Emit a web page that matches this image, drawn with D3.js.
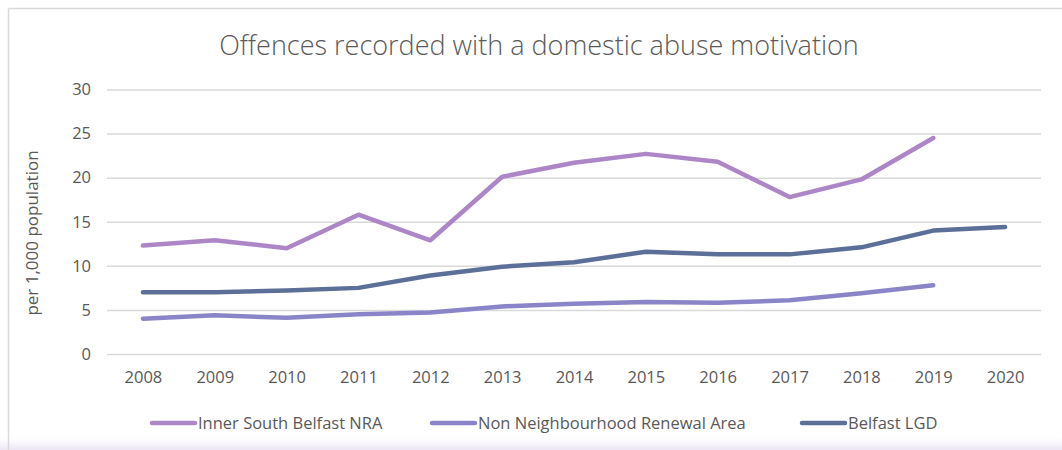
<!DOCTYPE html>
<html>
<head>
<meta charset="utf-8">
<script src="https://cdn.jsdelivr.net/npm/d3@7"></script>
<style>
  html, body { margin: 0; padding: 0; background: #fff; }
  svg { display: block; }
</style>
</head>
<body>
<svg id="chart" width="1062" height="450"></svg>
<script>
// Offences recorded with a domestic abuse motivation, per 1,000 population
const years = ["2008","2009","2010","2011","2012","2013","2014","2015","2016","2017","2018","2019","2020"];
const innerSouthNRA = [12.3, 12.9, 12.0, 15.8, 12.9, 20.1, 21.7, 22.7, 21.8, 17.8, 19.8, 24.5, null];
const nonNRA        = [4.0, 4.4, 4.1, 4.5, 4.7, 5.4, 5.7, 5.9, 5.8, 6.1, 6.9, 7.8, null];
const belfastLGD    = [7.0, 7.0, 7.2, 7.5, 8.9, 9.9, 10.4, 11.6, 11.3, 11.3, 12.1, 14.0, 14.4];
const yTicks = [0, 5, 10, 15, 20, 25, 30];
const seriesNames = ["Inner South Belfast NRA", "Non Neighbourhood Renewal Area", "Belfast LGD"];
const seriesColors = ["#ad86c8", "#8a85c9", "#5b6f98"];

const series = [innerSouthNRA, nonNRA, belfastLGD].map((vals, i) => ({
  name: seriesNames[i], color: seriesColors[i],
  points: vals.map((v, j) => ({ year: years[j], value: v }))
}));

const svg = d3.select("#chart");
const W = 1062, H = 450;
const font = "'Open Sans', 'Noto Sans', sans-serif";

// background frame with soft lavender fade at the bottom
const defs = svg.append("defs");
const grad = defs.append("linearGradient").attr("id", "fade").attr("x1", 0).attr("y1", 0).attr("x2", 0).attr("y2", 1);
grad.append("stop").attr("offset", 0).attr("stop-color", "#ffffff").attr("stop-opacity", 0);
grad.append("stop").attr("offset", 1).attr("stop-color", "#ebe4f3").attr("stop-opacity", 1);

svg.append("rect").attr("x", 0).attr("y", 0).attr("width", W).attr("height", H).attr("fill", "#fff");
svg.append("rect").attr("x", 0).attr("y", 434).attr("width", W).attr("height", 16).attr("fill", "url(#fade)");
svg.append("line").attr("x1", 8.5).attr("x2", W).attr("y1", 8.5).attr("y2", 8.5)
  .attr("stroke", "#d9d9d9").attr("stroke-width", 1.5);
svg.append("line").attr("x1", 8.5).attr("x2", 8.5).attr("y1", 8.5).attr("y2", H)
  .attr("stroke", "#d9d9d9").attr("stroke-width", 1.5);

const plot = { left: 107, right: 1041, top: 89.5, bottom: 354 };

const x = d3.scalePoint().domain(years).range([plot.left, plot.right]).padding(0.5);
const y = d3.scaleLinear().domain([0, 30]).range([plot.bottom, plot.top]);

// title
svg.append("text")
  .attr("x", 539).attr("y", 55)
  .attr("text-anchor", "middle")
  .attr("font-family", font).attr("font-weight", 300)
  .attr("font-size", 27).attr("fill", "#595959")
  .text("Offences recorded with a domestic abuse motivation");

// horizontal gridlines + y axis labels
const yAxis = d3.axisLeft(y).tickValues(yTicks).tickSize(-(plot.right - plot.left)).tickPadding(16);
const gy = svg.append("g").attr("transform", `translate(${plot.left},0)`).call(yAxis);
gy.select(".domain").remove();
gy.selectAll(".tick line").attr("stroke", "#d9d9d9").attr("stroke-width", 1.5);
gy.selectAll(".tick text").attr("font-family", font).attr("font-size", 16.5).attr("fill", "#595959");

// category axis labels
const xAxis = d3.axisBottom(x).tickSize(0).tickPadding(17);
const gx = svg.append("g").attr("transform", `translate(0,${plot.bottom})`).call(xAxis);
gx.select(".domain").remove();
gx.selectAll(".tick text").attr("font-family", font).attr("font-size", 16.5).attr("fill", "#595959");

// y axis title
svg.append("text")
  .attr("transform", "translate(38,233) rotate(-90)")
  .attr("text-anchor", "middle")
  .attr("font-family", font).attr("font-size", 17).attr("fill", "#595959")
  .text("per 1,000 population");

// series lines
const line = d3.line()
  .defined(d => d.value !== null)
  .x(d => x(d.year)).y(d => y(d.value));

svg.append("g").selectAll("path").data(series).join("path")
  .attr("d", d => line(d.points))
  .attr("fill", "none")
  .attr("stroke", d => d.color)
  .attr("stroke-width", 4.5)
  .attr("stroke-linejoin", "round")
  .attr("stroke-linecap", "round");

// legend
const legendX = [152, 432, 802];
const lg = svg.append("g").selectAll("g").data(series).join("g")
  .attr("transform", (d, i) => `translate(${legendX[i]},423)`);
lg.append("line").attr("x1", 0).attr("x2", 43).attr("y1", 0).attr("y2", 0)
  .attr("stroke", d => d.color).attr("stroke-width", 4.5).attr("stroke-linecap", "round");
lg.append("text").attr("x", 46).attr("y", 6)
  .attr("font-family", font).attr("font-size", 16.5).attr("fill", "#595959")
  .text(d => d.name);
</script>
</body>
</html>
